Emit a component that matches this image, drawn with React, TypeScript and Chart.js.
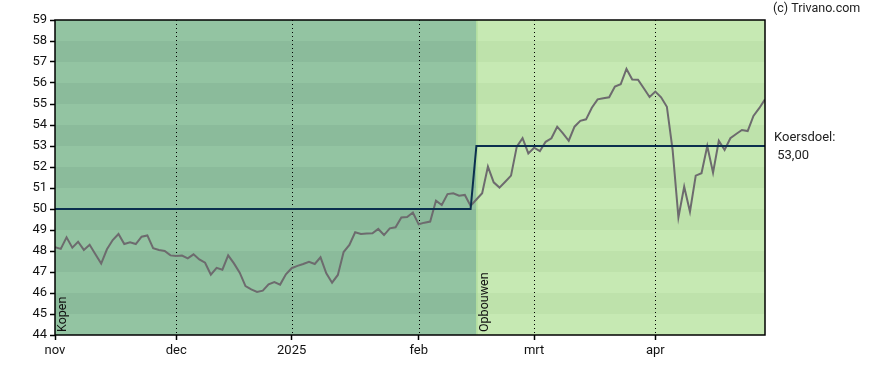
import React, { useEffect, useRef } from "react";
import { Chart, registerables } from "chart.js";

Chart.register(...registerables);

// Daily closing prices (one per trading day, Nov 2024 – Apr 2025)
const price: number[] = [
  48.18, 48.1, 48.65, 48.16, 48.44, 48.05, 48.3, 47.84, 47.4, 48.08,
  48.52, 48.81, 48.33, 48.41, 48.33, 48.68, 48.74, 48.13, 48.05, 48.0,
  47.79, 47.76, 47.78, 47.65, 47.84, 47.6, 47.44, 46.87, 47.2, 47.11,
  47.79, 47.41, 46.97, 46.33, 46.17, 46.05, 46.11, 46.41, 46.52, 46.4,
  46.89, 47.18, 47.29, 47.38, 47.49, 47.38, 47.7, 46.94, 46.49, 46.86,
  47.95, 48.29, 48.89, 48.81, 48.83, 48.84, 49.05, 48.76, 49.08, 49.13,
  49.6, 49.62, 49.83, 49.27, 49.35, 49.4, 50.4, 50.19, 50.71, 50.75,
  50.63, 50.67, 50.15, 50.45, 50.75, 52.02, 51.27, 51.02, 51.3, 51.59,
  52.97, 53.37, 52.65, 52.92, 52.76, 53.2, 53.37, 53.92, 53.6, 53.25,
  53.92, 54.2, 54.27, 54.82, 55.22, 55.27, 55.32, 55.83, 55.94, 56.67,
  56.17, 56.16, 55.75, 55.33, 55.59, 55.32, 54.87, 52.8, 49.6, 51.06,
  49.87, 51.59, 51.7, 53.0, 51.73, 53.25, 52.81, 53.37, 53.57, 53.76,
  53.71, 54.43, 54.8, 55.22,
];

// Price target (koersdoel) segments, by trading-day index
const targetFrom: number[] = [0, 73];
const targetTo: number[] = [72, 123];
const targetValue: number[] = [50, 53];

// Advice zones
const zoneStart: number[] = [0, 73];
const zoneLabels: string[] = ["Kopen", "Opbouwen"];

// Month ticks (trading-day index) and their labels
const monthTickIdx: number[] = [0, 21, 41, 63, 83, 104];
const monthTickLabels: string[] = ["nov", "dec", "2025", "feb", "mrt", "apr"];

const yMin = 44;
const yMax = 59;

const FONT = "Roboto, 'Liberation Sans', Arial, sans-serif";

export default function App() {
  const ref = useRef<HTMLCanvasElement | null>(null);

  useEffect(() => {
    if (!ref.current) return;
    const priceData = price.map((v, i) => ({ x: i, y: v }));
    const targetData: { x: number; y: number }[] = [];
    targetFrom.forEach((f, k) => {
      targetData.push({ x: f, y: targetValue[k] });
      targetData.push({ x: targetTo[k], y: targetValue[k] });
    });
    const lastIdx = price.length - 1;

    const bgPlugin = {
      id: "bgPlugin",
      beforeDraw(chart: any) {
        const { ctx, chartArea: a, scales } = chart;
        const xs = scales.x;
        const ys = scales.y;
        const zoneColors = [
          ["#93c4a2", "#8bbb9b"],
          ["#c6e9b3", "#bee2ab"],
        ];
        ctx.save();
        zoneStart.forEach((s, z) => {
          const x0 = z === 0 ? a.left : xs.getPixelForValue(s);
          const x1 = z + 1 < zoneStart.length ? xs.getPixelForValue(zoneStart[z + 1]) : a.right;
          for (let k = yMin; k < yMax; k++) {
            const yTop = ys.getPixelForValue(k + 1);
            const yBot = ys.getPixelForValue(k);
            ctx.fillStyle = zoneColors[z][k % 2 === 1 ? 1 : 0];
            ctx.fillRect(x0, yTop, x1 - x0, yBot - yTop);
          }
          if (z > 0) {
            ctx.fillStyle = "#a3d98f";
            ctx.fillRect(x0, a.top, 1, a.bottom - a.top);
          }
        });
        ctx.restore();
      },
      beforeDatasetsDraw(chart: any) {
        const { ctx, chartArea: a, scales } = chart;
        ctx.save();
        ctx.strokeStyle = "#000";
        ctx.lineWidth = 1;
        ctx.setLineDash([1, 3]);
        monthTickIdx.forEach((i) => {
          if (i === 0) return;
          const x = Math.round(scales.x.getPixelForValue(i)) + 0.5;
          ctx.beginPath();
          ctx.moveTo(x, a.top);
          ctx.lineTo(x, a.bottom);
          ctx.stroke();
        });
        ctx.setLineDash([]);
        // zone labels
        ctx.fillStyle = "#111";
        ctx.font = `12.5px ${FONT}`;
        ctx.textAlign = "left";
        ctx.textBaseline = "middle";
        zoneStart.forEach((s, z) => {
          const x = (z === 0 ? a.left : scales.x.getPixelForValue(s)) + 8;
          ctx.save();
          ctx.translate(x, a.bottom - 3);
          ctx.rotate(-Math.PI / 2);
          ctx.fillText(zoneLabels[z], 0, 0);
          ctx.restore();
        });
        ctx.restore();
      },
      afterDraw(chart: any) {
        const { ctx, chartArea: a, scales } = chart;
        ctx.save();
        ctx.strokeStyle = "#000";
        ctx.lineWidth = 1.5;
        ctx.strokeRect(a.left, a.top, a.right - a.left, a.bottom - a.top);
        ctx.fillStyle = "#222";
        ctx.font = `12.5px ${FONT}`;
        ctx.textAlign = "left";
        ctx.textBaseline = "middle";
        ctx.fillText("(c) Trivano.com", 773, 9);
        const lastTarget = targetValue[targetValue.length - 1];
        const yT = scales.y.getPixelForValue(lastTarget);
        ctx.font = `13px ${FONT}`;
        ctx.fillText("Koersdoel:", 774, yT - 8);
        ctx.fillText(" " + lastTarget.toFixed(2).replace(".", ","), 774, yT + 10);
        ctx.restore();
      },
    };

    const chart = new Chart(ref.current, {
      type: "line",
      data: {
        datasets: [
          {
            data: targetData,
            borderColor: "#0b2f4e",
            borderWidth: 2,
            pointRadius: 0,
            tension: 0,
          },
          {
            data: priceData,
            borderColor: "#6d6b6e",
            borderWidth: 2,
            pointRadius: 0,
            tension: 0,
          },
        ],
      },
      options: {
        animation: false,
        responsive: false,
        events: [],
        layout: { padding: { left: 0, right: 123, top: 20, bottom: 0 } },
        plugins: { legend: { display: false }, tooltip: { enabled: false } },
        scales: {
          x: {
            type: "linear",
            min: 0,
            max: lastIdx,
            afterBuildTicks(scale: any) {
              scale.ticks = monthTickIdx.map((v) => ({ value: v }));
            },
            afterFit(scale: any) {
              scale.height = 35;
            },
            ticks: {
              autoSkip: false,
              maxRotation: 0,
              color: "#111",
              font: { family: FONT, size: 13 },
              padding: 3,
              callback: (v: any) => {
                const k = monthTickIdx.indexOf(Number(v));
                return k >= 0 ? monthTickLabels[k] : "";
              },
            },
            grid: {
              display: true,
              drawOnChartArea: false,
              drawTicks: true,
              tickLength: 5,
              tickColor: "#000",
              tickWidth: 1.5,
            },
            border: { display: false },
          },
          y: {
            min: yMin,
            max: yMax,
            afterFit(scale: any) {
              scale.width = 55;
            },
            ticks: {
              stepSize: 1,
              color: "#111",
              font: { family: FONT, size: 13 },
              padding: 3,
            },
            grid: {
              display: true,
              drawOnChartArea: false,
              drawTicks: true,
              tickLength: 5,
              tickColor: "#000",
              tickWidth: 1.5,
            },
            border: { display: false },
          },
        },
      },
      plugins: [bgPlugin],
    } as any);
    return () => chart.destroy();
  }, []);

  return (
    <div style={{ position: "fixed", left: 0, top: 0, width: 888, height: 370, background: "#fff" }}>
      <canvas ref={ref} width={888} height={370} style={{ display: "block" }} />
    </div>
  );
}
